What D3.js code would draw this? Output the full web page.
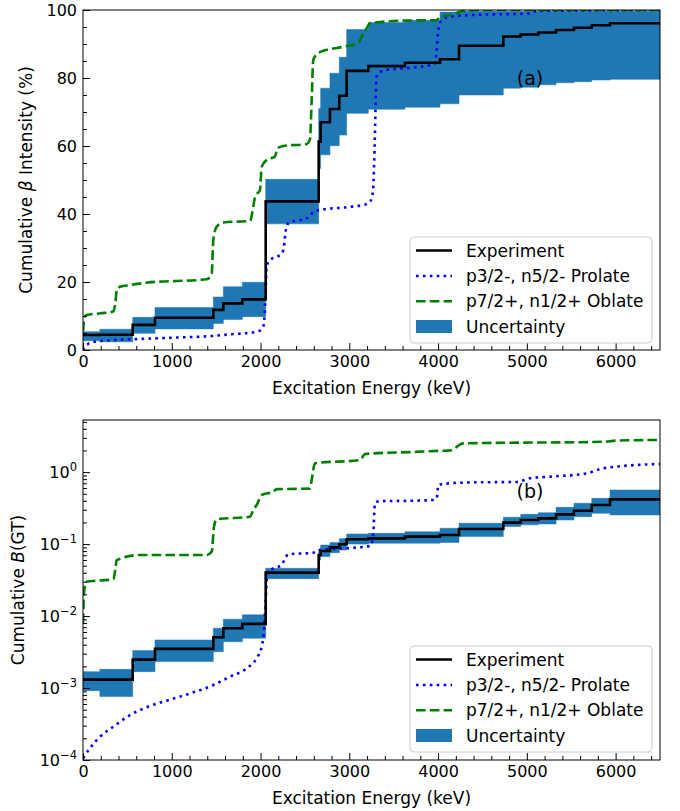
<!DOCTYPE html>
<html><head><meta charset="utf-8">
<script src="https://cdn.jsdelivr.net/npm/d3@7/dist/d3.min.js"></script>
<style>body{margin:0;background:#fff} svg{display:block} text{font-family:"DejaVu Sans",sans-serif;fill:#000}</style>
</head><body><svg id="c" width="680" height="811"></svg>
<script>
// ---------- DATA ----------
const levelE = [0,190,560,811,1468,1581,1795,2058,2655,2677,2782,2887,2970,3214,3627,4022,4236,4735,4931,5129,5329,5531,5731,5937,6500];
// (a) cumulative beta intensity (%)
const expI   = [4.4,4.5,7.4,9.5,11.8,13.7,14.9,43.7,61.3,67.0,70.9,74.8,82.1,83.5,84.5,85.5,89.5,92.2,92.8,93.4,94.1,94.8,95.5,96.1,96.1];
const expIHi = [5.4,6.1,9.6,12.5,15.6,18.6,19.9,50.2,71.0,77.0,81.4,86.1,94.3,96.3,97.0,99.4,99.6,99.6,99.6,99.6,99.6,99.6,99.6,99.6,99.6];
const expILo = [2.7,2.4,4.9,6.2,7.8,9.0,9.8,37.1,53.4,57.4,60.1,63.2,69.6,70.8,71.4,72.4,75.0,77.0,77.3,78.0,78.6,78.9,79.4,79.6,79.6];
// (b) cumulative B(GT)
const expB   = [1.31e-3,1.31e-3,2.48e-3,3.5e-3,5.08e-3,6.78e-3,7.78e-3,0.0401,0.0706,0.080,0.090,0.0994,0.117,0.120,0.127,0.134,0.162,0.199,0.216,0.228,0.259,0.291,0.349,0.418,0.418];
const expBHi = [1.69e-3,1.82e-3,3.31e-3,4.66e-3,6.78e-3,9.04e-3,0.0104,0.0461,0.085,0.097,0.105,0.119,0.138,0.141,0.149,0.166,0.195,0.236,0.259,0.273,0.324,0.369,0.433,0.565,0.565];
const expBLo = [9.2e-4,7.6e-4,1.69e-3,2.33e-3,3.2e-3,4.4e-3,4.92e-3,0.0331,0.060,0.067,0.076,0.083,0.100,0.103,0.103,0.105,0.127,0.175,0.185,0.190,0.216,0.240,0.268,0.254,0.254];

// models: [energy keV, value]
const prolateI = [[0,0],[20,1.0],[42,1.5],[116,2.4],[341,2.9],[700,3.3],[1093,3.7],[1450,4.1],[1656,4.6],[1850,5.0],[1956,5.4],[2010,6.0],[2031,6.9],[2045,10],[2054,14.7],[2069,24.5],[2106,26.5],[2200,27.6],[2245,28.6],[2264,30.4],[2279,34.3],[2300,36.8],[2330,37.6],[2444,38.2],[2557,39.2],[2594,40.7],[2670,41.2],[2970,42.0],[3180,42.8],[3233,43.6],[3255,45],[3270,48],[3280,55],[3289,63.7],[3297,73.5],[3308,80.4],[3327,81.4],[3421,82.4],[3608,82.8],[3796,83.3],[3940,84],[3965,84.3],[3984,88.2],[4003,94.1],[4041,97],[4135,98],[4360,98.5],[5035,99],[5111,99.7],[6500,100]];
const oblateI = [[0,5.5],[8,8],[20,9.8],[42,10.3],[200,10.8],[341,11.3],[365,14],[380,17.6],[417,18.6],[529,19.1],[717,19.8],[1393,20.8],[1450,22.5],[1468,32.4],[1506,36.3],[1581,37.5],[1881,38],[1919,42.2],[1938,45.1],[1994,47.1],[2013,53.9],[2069,55.9],[2163,56.9],[2189,59.3],[2257,60],[2520,60.6],[2557,62],[2576,73.5],[2594,85.3],[2651,87.4],[2932,89.2],[3101,90.2],[3139,92.2],[3195,94.6],[3233,96.1],[3646,96.9],[3984,97],[4022,98],[4135,98.5],[4284,99.7],[4500,100],[6500,100]];
const prolateB = [[0,1.06e-4],[79,1.46e-4],[191,2.1e-4],[341,2.9e-4],[529,4.2e-4],[717,5.4e-4],[1093,7.6e-4],[1468,1.1e-3],[1656,1.44e-3],[1844,1.88e-3],[1956,2.6e-3],[2013,3.77e-3],[2042,7.1e-3],[2058,0.0168],[2077,0.039],[2144,0.046],[2238,0.051],[2276,0.0635],[2313,0.072],[2594,0.076],[2670,0.083],[2970,0.0875],[3233,0.094],[3260,0.11],[3270,0.141],[3289,0.369],[3308,0.388],[3364,0.395],[3684,0.40],[3946,0.41],[3984,0.43],[4003,0.662],[4041,0.68],[4360,0.72],[4886,0.73],[5035,0.82],[5298,0.87],[5674,0.96],[5862,1.13],[6500,1.3]];
const oblateB = [[0,0.008],[10,0.02],[34,0.030],[341,0.0324],[365,0.045],[380,0.060],[642,0.0706],[1393,0.0706],[1450,0.0785],[1476,0.175],[1506,0.221],[1881,0.24],[1919,0.298],[1956,0.349],[2013,0.481],[2144,0.535],[2182,0.58],[2557,0.59],[2576,0.778],[2613,1.33],[3120,1.47],[3176,1.78],[3270,1.82],[3700,1.9],[4022,1.98],[4135,2.0],[4284,2.51],[5862,2.64],[6012,2.74],[6500,2.8]];

const xTicks = [0,1000,2000,3000,4000,5000,6000];
const yTicksA = [0,20,40,60,80,100];
const yTicksB = [1e-4,1e-3,1e-2,1e-1,1e0];
const legendLabels = ["Experiment","p3/2-, n5/2- Prolate","p7/2+, n1/2+ Oblate","Uncertainty"];

// ---------- DRAW ----------
const svg = d3.select("#c");
const C0 = "#1f77b4";
const x = d3.scaleLinear().domain([0,6500]).range([83,660]);
const xMinor = d3.range(0,6501,200).filter(v=>v%1000!==0);
const noLabel = () => "";

function panel(cfg){
  const {top,bottom,y,id} = cfg;
  const g = svg.append("g");
  const clip = g.append("clipPath").attr("id","clip"+id);
  clip.append("rect").attr("x",83).attr("y",top).attr("width",577).attr("height",bottom-top);
  const data = g.append("g").attr("clip-path",`url(#clip${id})`);
  const steps = levelE.map((e,i)=>({e,v:cfg.ev[i],lo:cfg.lo[i],hi:cfg.hi[i]}));
  data.append("path").datum(steps)
    .attr("d",d3.area().curve(d3.curveStepAfter).x(d=>x(d.e)).y0(d=>y(d.lo)).y1(d=>y(d.hi)))
    .attr("fill",C0).attr("stroke",C0).attr("stroke-width",0.5);
  data.append("path").datum(cfg.prolate)
    .attr("d",d3.line().curve(d3.curveMonotoneX).x(d=>x(d[0])).y(d=>y(d[1])))
    .attr("fill","none").attr("stroke","#0000ff").attr("stroke-width",2.6).attr("stroke-dasharray","2.6,4.3");
  data.append("path").datum(cfg.oblate)
    .attr("d",d3.line().curve(d3.curveMonotoneX).x(d=>x(d[0])).y(d=>y(d[1])))
    .attr("fill","none").attr("stroke","#008000").attr("stroke-width",2.6).attr("stroke-dasharray","9.6,4.2");
  data.append("path").datum(steps)
    .attr("d",d3.line().curve(d3.curveStepAfter).x(d=>x(d.e)).y(d=>y(d.v)))
    .attr("fill","none").attr("stroke","#000").attr("stroke-width",2.6);

  // x axis
  const ax = g.append("g").attr("transform",`translate(0,${bottom})`)
    .call(d3.axisBottom(x).tickValues(xTicks).tickSize(-7).tickPadding(6).tickFormat(d3.format("d")));
  const axm = g.append("g").attr("transform",`translate(0,${bottom})`)
    .call(d3.axisBottom(x).tickValues(xMinor).tickSize(-4).tickFormat(noLabel));
  [ax,axm].forEach(a=>{ a.selectAll(".domain").remove(); a.selectAll("line").attr("stroke","#000").attr("stroke-width",1); });
  axm.selectAll("text").remove();
  ax.selectAll("text").attr("font-size",16).attr("font-family","DejaVu Sans").attr("fill","#000");

  // y axis
  const ay = g.append("g").attr("transform",`translate(83,0)`)
    .call(d3.axisLeft(y).tickValues(cfg.yTicks).tickSize(-7).tickPadding(6).tickFormat(cfg.log?(d=>String(d)):d3.format("d")));
  const aym = g.append("g").attr("transform",`translate(83,0)`)
    .call(d3.axisLeft(y).tickValues(cfg.yMinor).tickSize(-4).tickFormat(noLabel));
  [ay,aym].forEach(a=>{ a.selectAll(".domain").remove(); a.selectAll("line").attr("stroke","#000").attr("stroke-width",1); });
  aym.selectAll("text").remove();
  ay.selectAll("text").attr("font-size",16).attr("font-family","DejaVu Sans").attr("fill","#000");
  if(cfg.log){
    ay.selectAll(".tick text").each(function(d){
      const t = d3.select(this); const ex = Math.round(Math.log10(d));
      t.text(null);
      t.append("tspan").text("10");
      t.append("tspan").attr("dy","-0.55em").attr("font-size","11.5px").text(ex<0?"\u2212"+(-ex):String(ex));
    });
  }

  // frame
  g.append("rect").attr("x",83).attr("y",top).attr("width",577).attr("height",bottom-top)
    .attr("fill","none").attr("stroke","#000").attr("stroke-width",1);

  // x label
  g.append("text").attr("x",(83+660)/2).attr("y",bottom+44).attr("text-anchor","middle")
    .attr("font-size",17).text("Excitation Energy (keV)");
  // y label
  const yl = g.append("text").attr("transform",`translate(${cfg.ylx},${(top+bottom)/2}) rotate(-90)`)
    .attr("text-anchor","middle").attr("font-size",17);
  cfg.ylabel.forEach(p=>{ const s=yl.append("tspan").text(p.t); if(p.i) s.attr("font-style","italic"); });

  // panel tag
  g.append("text").attr("x",530).attr("y",cfg.tagY).attr("text-anchor","middle").attr("font-size",19).text(cfg.tag);

  // legend
  const L = g.append("g").attr("transform",`translate(410,${cfg.legY})`);
  L.append("rect").attr("width",242).attr("height",106).attr("rx",4)
    .attr("fill","#fff").attr("fill-opacity",0.85).attr("stroke","#cccccc").attr("stroke-width",1);
  const rowY = [13.5,39,64.3,89.5];
  const styles = [
    {stroke:"#000",dash:null},
    {stroke:"#0000ff",dash:"2.6,4.3"},
    {stroke:"#008000",dash:"9.6,4.2"},
    null];
  legendLabels.forEach((lab,i)=>{
    const yy = rowY[i];
    if(styles[i]){
      L.append("line").attr("x1",6).attr("x2",42).attr("y1",yy).attr("y2",yy)
        .attr("stroke",styles[i].stroke).attr("stroke-width",2.6).attr("stroke-dasharray",styles[i].dash);
    } else {
      L.append("rect").attr("x",6).attr("y",yy-6.5).attr("width",36).attr("height",13).attr("fill",C0);
    }
    L.append("text").attr("x",56).attr("y",yy+6).attr("font-size",17).text(lab);
  });
}

const yA = d3.scaleLinear().domain([0,100]).range([350,10]);
const yB = d3.scaleLog().domain([1e-4,5.3]).range([760,420]);
const yMinorA = d3.range(0,101,5).filter(v=>v%20!==0);
const yMinorB = [];
[-4,-3,-2,-1,0].forEach(p=>{ for(let k=2;k<=9;k++){ const v=k*Math.pow(10,p); if(v<=5.3) yMinorB.push(v);} });

panel({id:"a",top:10,bottom:350,y:yA,yTicks:yTicksA,yMinor:yMinorA,log:false,
  ev:expI,lo:expILo,hi:expIHi,prolate:prolateI,oblate:oblateI,
  ylx:32,ylabel:[{t:"Cumulative "},{t:"β",i:true},{t:" Intensity (%)"}],
  tag:"(a)",tagY:85,legY:237});
panel({id:"b",top:420,bottom:760,y:yB,yTicks:yTicksB,yMinor:yMinorB,log:true,
  ev:expB,lo:expBLo,hi:expBHi,prolate:prolateB,oblate:oblateB,
  ylx:24,ylabel:[{t:"Cumulative "},{t:"B",i:true},{t:"(GT)"}],
  tag:"(b)",tagY:498,legY:646});
</script></body></html>
